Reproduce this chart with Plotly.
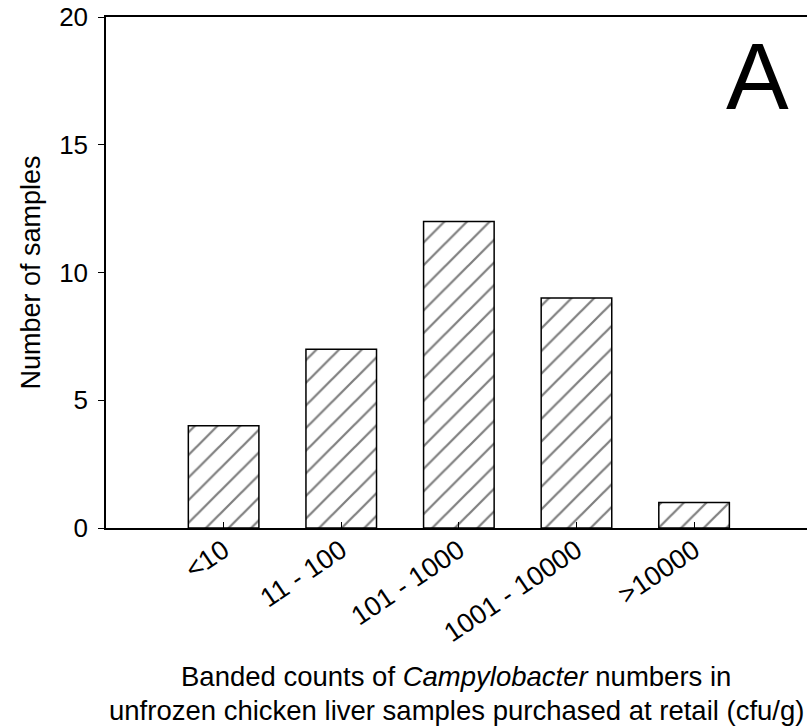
import plotly.graph_objects as go

categories = ["<10", "11 - 100", "101 - 1000", "1001 - 10000", ">10000"]
counts = [4, 7, 12, 9, 1]
y_ticks = [0, 5, 10, 15, 20]

FONT = "Liberation Sans, Arial, sans-serif"

fig = go.Figure()
fig.add_trace(go.Bar(
    x=list(range(len(categories))),
    y=counts,
    width=0.6,
    marker=dict(
        color="white",
        line=dict(color="black", width=1.5),
        pattern=dict(shape="/", size=16, solidity=0.14, fgcolor="black", bgcolor="white"),
    ),
    showlegend=False,
))

fig.update_layout(
    width=807, height=726,
    margin=dict(l=106, r=0, t=17, b=198),
    plot_bgcolor="white", paper_bgcolor="white",
    font=dict(family=FONT, color="black", size=26),
    bargap=0.4,
)

fig.update_xaxes(
    range=[-1, 4.96],
    tickmode="array",
    tickvals=list(range(len(categories))),
    ticktext=categories,
    tickangle=-34,
    ticks="inside", ticklen=6, tickwidth=1.2, tickcolor="black",
    showline=True, linecolor="black", linewidth=2, mirror=True,
    showgrid=False, zeroline=False,
    tickfont=dict(size=27, family=FONT),
    ticklabelstandoff=-6,
)
fig.update_yaxes(
    range=[0, 20],
    tickmode="array",
    tickvals=y_ticks,
    ticks="outside", ticklen=6, tickwidth=1.2, tickcolor="black",
    showline=True, linecolor="black", linewidth=1.5,
    showgrid=False, zeroline=False,
    tickfont=dict(size=26, family=FONT),
    ticklabelstandoff=5,
)

fig.add_annotation(
    text="Number of samples", textangle=-90,
    xref="paper", yref="paper", x=0, y=0.5, xshift=-76,
    xanchor="center", yanchor="middle", showarrow=False,
    font=dict(size=27, family=FONT),
)
fig.add_annotation(
    text="Banded counts of <i>Campylobacter</i> numbers in",
    xref="paper", yref="paper", x=0.4993, y=0, yshift=-165,
    xanchor="center", yanchor="bottom", showarrow=False,
    font=dict(size=27.5, family=FONT), borderpad=0,
)
fig.add_annotation(
    text="unfrozen chicken liver samples purchased at retail (cfu/g)",
    xref="paper", yref="paper", x=0.4993, y=0, yshift=-166,
    xanchor="center", yanchor="top", showarrow=False,
    font=dict(size=27.5, family=FONT), borderpad=0,
)
fig.add_annotation(
    text="A",
    xref="paper", yref="paper", x=0.9287, y=0.8845,
    xanchor="center", yanchor="middle", showarrow=False,
    font=dict(size=94, family=FONT),
)

fig.write_html("out.html")
